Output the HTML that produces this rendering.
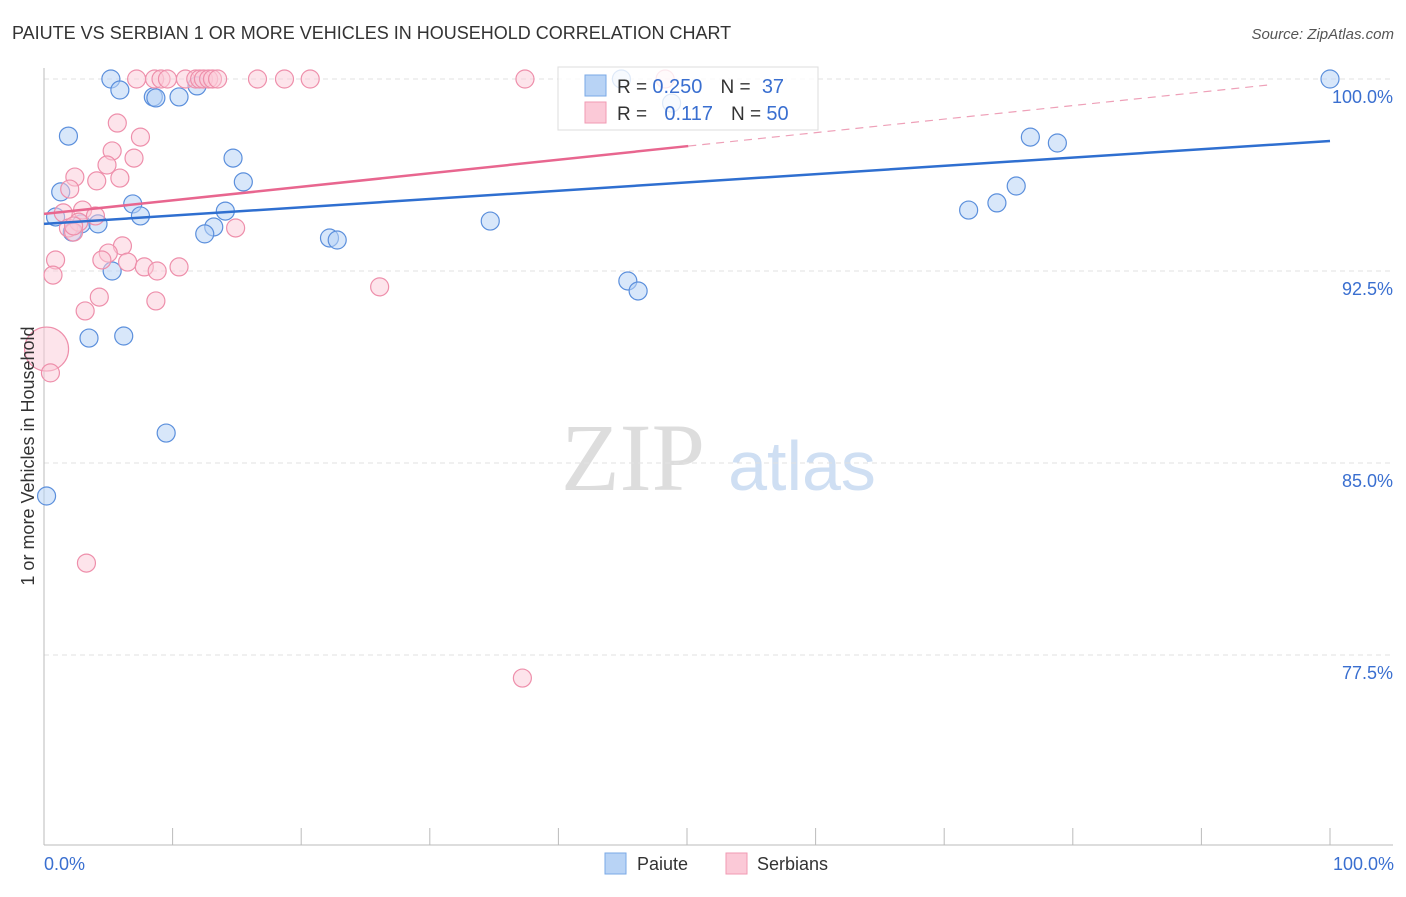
<!DOCTYPE html>
<html><head><meta charset="utf-8"><style>
body{margin:0;background:#fff;font-family:"Liberation Sans",sans-serif}
</style></head><body>
<svg width="1406" height="892" xmlns="http://www.w3.org/2000/svg" id="chart" font-family="Liberation Sans, sans-serif">
<text x="12" y="39" font-size="18" fill="#333">PAIUTE VS SERBIAN 1 OR MORE VEHICLES IN HOUSEHOLD CORRELATION CHART</text>
<text x="1394" y="39" font-size="15" fill="#555" font-style="italic" text-anchor="end">Source: ZipAtlas.com</text>
<g>
<text x="633" y="490" font-size="96" fill="#ddd" font-family="Liberation Serif, serif" text-anchor="middle">ZIP</text>
<text x="802" y="490" font-size="70" fill="#cfdff3" text-anchor="middle">atlas</text>
</g>
<g id="grid"></g>
<g id="axes"></g>
<g id="marks"></g>
<text transform="translate(34,456) rotate(-90)" font-size="18" fill="#333" text-anchor="middle">1 or more Vehicles in Household</text>
<text x="44" y="870" font-size="18" fill="#3a6fd0">0.0%</text>
<text x="1394" y="870" font-size="18" fill="#3a6fd0" text-anchor="end">100.0%</text>
<g>
<rect x="605" y="853" width="21" height="21" fill="#b8d3f5" stroke="#7aa8e6"/>
<text x="637" y="870" font-size="18" fill="#333">Paiute</text>
<rect x="726" y="853" width="21" height="21" fill="#fbc9d7" stroke="#f09ab3"/>
<text x="757" y="870" font-size="18" fill="#333">Serbians</text>
</g>
<g>
<rect x="558" y="67" width="260" height="63" fill="#fff" fill-opacity="0.8" stroke="#ddd"/>
<rect x="585" y="75" width="21" height="21" fill="#b8d3f5" stroke="#7aa8e6"/>
<rect x="585" y="102" width="21" height="21" fill="#fbc9d7" stroke="#f09ab3"/>
<text x="617" y="93" font-size="19" fill="#333">R = <tspan fill="#3a6fd0" font-size="20">0.250</tspan><tspan dx="18">N = </tspan><tspan fill="#3a6fd0" font-size="20" dx="6">37</tspan></text>
<text x="617" y="120" font-size="19" fill="#333">R = <tspan fill="#3a6fd0" font-size="20" dx="12">0.117</tspan><tspan dx="18">N = </tspan><tspan fill="#3a6fd0" font-size="20">50</tspan></text>
</g>
</svg>
<script>
const yTicks=[100,92.5,85,77.5];
const yTickLabels=["100.0%","92.5%","85.0%","77.5%"];
const xTicks=[0,10,20,30,40,50,60,70,80,90,100];
const paiuteX=[5.2,5.9,8.5,8.7,10.5,11.9,1.9,14.7,1.3,15.5,6.9,7.5,0.9,2.9,4.2,2.2,14.1,13.2,12.5,22.2,22.8,34.7,5.3,3.5,6.2,9.5,0.2,45.4,46.2,44.9,48.8,71.9,74.1,75.6,76.7,78.8,100];
const paiuteY=[100,99.57,99.3,99.26,99.3,99.73,97.77,96.91,95.59,95.98,95.12,94.65,94.61,94.34,94.34,94.02,94.84,94.22,93.95,93.79,93.71,94.45,92.5,89.88,89.96,86.17,83.71,92.11,91.72,100,99.06,94.88,95.16,95.82,97.73,97.5,100];
const serbX=[7.2,8.6,9.1,9.6,11,11.8,12.1,12.4,12.8,13.1,13.5,16.6,18.7,20.7,37.4,48.3,5.7,7.5,5.3,7,4.9,2.4,5.9,4.1,2,3,1.5,4,1.9,2.7,14.9,2.3,6.1,5,0.9,4.5,6.5,7.8,8.8,10.5,0.7,4.3,8.7,3.2,26.1,0.2,0.5,3.3,37.2,2.3];
const serbY=[100,100,100,100,100,100,100,100,100,100,100,100,100,100,100,100,98.28,97.73,97.19,96.91,96.64,96.17,96.13,96.02,95.7,94.88,94.77,94.65,94.18,94.41,94.18,94.02,93.48,93.2,92.93,92.93,92.85,92.66,92.5,92.66,92.34,91.48,91.33,90.94,91.88,89.45,88.52,81.09,76.6,94.26];
const serbR=[9,9,9,9,9,9,9,9,9,9,9,9,9,9,9,9,9,9,9,9,9,9,9,9,9,9,9,9,9,9,9,9,9,9,9,9,9,9,9,9,9,9,9,9,9,22,9,9,9,9];
const blueLine=[94.34,97.58];
const pinkLine=[94.73,100.02];
const pinkSolidEnd=50.1;
const NS="http://www.w3.org/2000/svg";
const X0=44,X1=1330,YTOP=79,PPU=25.6;
function sx(v){return X0+(X1-X0)*v/100;}
function sy(v){return YTOP+(100-v)*PPU;}
function mk(t,a,p){const e=document.createElementNS(NS,t);for(const k in a)e.setAttribute(k,a[k]);p.appendChild(e);return e;}
const grid=document.getElementById('grid'),axes=document.getElementById('axes'),marks=document.getElementById('marks');
yTicks.forEach((t,i)=>{
 const l=mk('line',{x1:X0,x2:1393,y1:sy(t),y2:sy(t),stroke:'#e2e2e2','stroke-dasharray':'5,4'},grid);
 
 
 const tx=mk('text',{x:1393,y:sy(t)+24,'font-size':18,fill:'#3a6fd0','text-anchor':'end'},grid);
 tx.textContent=yTickLabels[i];
 
 
});
const ya=mk('line',{x1:X0,x2:X0,y1:68,y2:845,stroke:'#bbb'},axes);


const xa=mk('line',{x1:X0,x2:1393,y1:845,y2:845,stroke:'#bbb'},axes);


xTicks.forEach(t=>{
 const l=mk('line',{x1:sx(t),x2:sx(t),y1:828,y2:845,stroke:'#bbb'},axes);
 
 
});
paiuteX.forEach((x,i)=>{
 const c=mk('circle',{cx:sx(x),cy:sy(paiuteY[i]),r:9,fill:'#b8d3f5','fill-opacity':0.55,stroke:'#5b8fdc','stroke-width':1.2},marks);
 
 
});
serbX.forEach((x,i)=>{
 const c=mk('circle',{cx:sx(x),cy:sy(serbY[i]),r:serbR[i],fill:'#fbc9d7','fill-opacity':0.5,stroke:'#ee8fab','stroke-width':1.2},marks);
 
 
});
const bl=mk('line',{x1:sx(0),y1:sy(blueLine[0]),x2:sx(100),y2:sy(blueLine[1]),stroke:'#2f6fd0','stroke-width':2.5},marks);


const pAt=v=>pinkLine[0]+(pinkLine[1]-pinkLine[0])*v/100;
const pl=mk('line',{x1:sx(0),y1:sy(pinkLine[0]),x2:sx(pinkSolidEnd),y2:sy(pAt(pinkSolidEnd)),stroke:'#e8668f','stroke-width':2.5},marks);


const pd=mk('line',{x1:sx(pinkSolidEnd),y1:sy(pAt(pinkSolidEnd)),x2:sx(95.5),y2:sy(pAt(95.5)),stroke:'#eea0b8','stroke-width':1.2,'stroke-dasharray':'8,6'},marks);


</script>
</body></html>
